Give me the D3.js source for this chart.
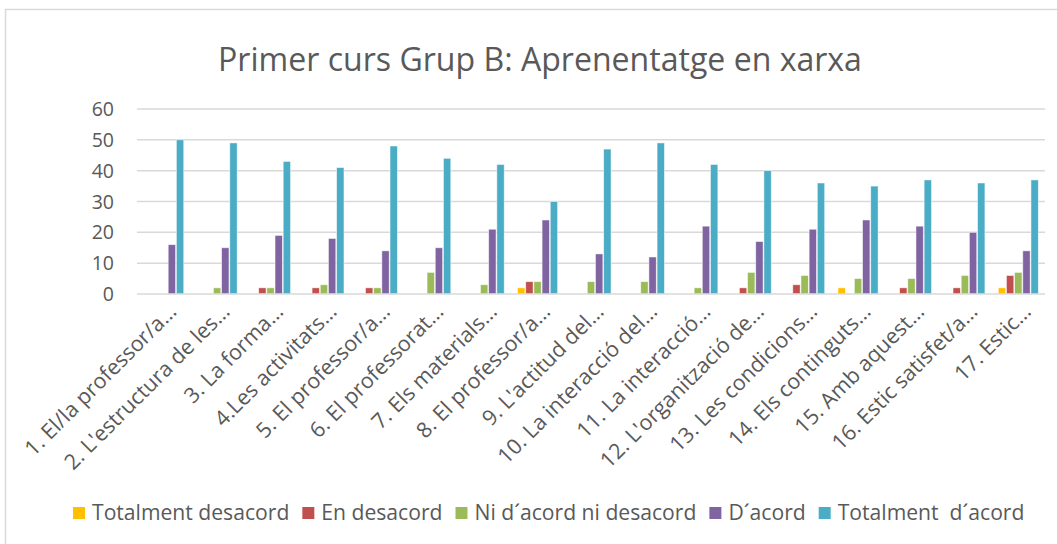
<!DOCTYPE html>
<html><head><meta charset="utf-8">
<script src="https://cdn.jsdelivr.net/npm/d3@7"></script>
<style>
html,body{margin:0;padding:0;background:#fff;}
svg{display:block;font-family:"Open Sans",sans-serif;}
</style></head>
<body>
<svg id="chart" width="1057" height="544"></svg>
<script>
const title = "Primer curs Grup B: Aprenentatge en xarxa";
const categories = ["1. El/la professor/a…","2. L'estructura de les…","3. La forma…","4.Les activitats…","5. El professor/a…","6. El professorat…","7. Els materials…","8. El professor/a…","9. L'actitud del…","10. La interacció del…","11. La interacció…","12. L'organització de…","13. Les condicions…","14. Els continguts…","15. Amb aquest…","16. Estic satisfet/a…","17. Estic…"];
const seriesNames = ["Totalment desacord","En desacord","Ni d´acord ni desacord","D´acord","Totalment  d´acord"];
const seriesColors = ["#FFC000","#C0504D","#9BBB59","#8064A2","#4BACC6"];
const totalmentDesacord = [0,0,0,0,0,0,0,2,0,0,0,0,0,2,0,0,2];
const enDesacord        = [0,0,2,2,2,0,0,4,0,0,0,2,3,0,2,2,6];
const niAcord           = [0,2,2,3,2,7,3,4,4,4,2,7,6,5,5,6,7];
const dAcord            = [16,15,19,18,14,15,21,24,13,12,22,17,21,24,22,20,14];
const totalmentAcord    = [50,49,43,41,48,44,42,30,47,49,42,40,36,35,37,36,37];
const yTicks = [0,10,20,30,40,50,60];

const series = [totalmentDesacord,enDesacord,niAcord,dAcord,totalmentAcord];
const svg = d3.select("#chart");
const textColor = "#595959";

// outer border
svg.append("rect").attr("x",5.5).attr("y",9.5).attr("width",1057).attr("height",544)
  .attr("fill","none").attr("stroke","#D9D9D9").attr("stroke-width",1.5);

// title
const t = svg.append("text").attr("x",540).attr("y",71).attr("text-anchor","middle")
  .attr("fill",textColor).style("font-size","27px").text(title);
const tw = t.node().getComputedTextLength();
t.style("font-size",(27*644/tw).toFixed(2)+"px");

const plotLeft = 137, plotRight = 1045, plotTop = 109, plotBottom = 294;
const y = d3.scaleLinear().domain([0,60]).range([plotBottom,plotTop]);
const x0 = d3.scaleBand().domain(categories).range([plotLeft,plotRight]).paddingInner(0.25).paddingOuter(0.125);
const x1 = d3.scaleBand().domain(seriesNames).range([0,x0.bandwidth()]).paddingInner(0.1);

// gridlines
svg.append("g").selectAll("line").data(yTicks.filter(d=>d>0)).join("line")
  .attr("x1",plotLeft).attr("x2",plotRight).attr("y1",d=>y(d)).attr("y2",d=>y(d))
  .attr("stroke","#D9D9D9").attr("stroke-width",1.5);

// y axis labels
const yAxis = d3.axisLeft(y).tickValues(yTicks).tickSize(0).tickPadding(0);
const gy = svg.append("g").attr("transform",`translate(${114},0)`).call(yAxis);
gy.select(".domain").remove();
gy.selectAll("text").attr("fill",textColor).style("font-size","19.5px").style("font-family","'Open Sans',sans-serif").attr("dy","0.34em");

// bars
const groups = svg.append("g").selectAll("g").data(categories).join("g")
  .attr("transform",d=>`translate(${x0(d)},0)`);
groups.selectAll("rect").data((d,i)=>seriesNames.map((s,j)=>({s,j,v:series[j][i]})).filter(o=>o.v>0)).join("rect")
  .attr("x",o=>x1(o.s)).attr("width",x1.bandwidth())
  .attr("y",o=>y(o.v)).attr("height",o=>y(0)-y(o.v))
  .attr("fill",o=>seriesColors[o.j]).attr("stroke","#fff").attr("stroke-opacity",0.6).attr("stroke-width",0.8);

// baseline axis
const xAxis = d3.axisBottom(x0).tickSize(0).tickPadding(0);
const gx = svg.append("g").attr("transform",`translate(0,${plotBottom})`).call(xAxis);
gx.select(".domain").attr("stroke","#D9D9D9").attr("stroke-width",1.5).attr("d",`M${plotLeft},0H${plotRight}`);
const labels = gx.selectAll(".tick text")
  .attr("fill",textColor).style("font-size","18px").style("font-family","'Open Sans',sans-serif")
  .attr("text-anchor","end").attr("dy","0").attr("y",0).attr("x",0);
const l1 = labels.nodes()[0].getComputedTextLength();
const labelSize = 18*204/l1;
labels.style("font-size",labelSize.toFixed(2)+"px").attr("transform","translate(14,19) rotate(-45)");

// legend
const legend = svg.append("g");
const sq = 12, txOff = 19, gap = 13;
function buildLegend(fs){
  legend.selectAll("*").remove();
  let lx = 0;
  seriesNames.forEach((name,i)=>{
    const g = legend.append("g").attr("transform",`translate(${lx},0)`);
    g.append("rect").attr("x",0).attr("y",-13).attr("width",sq).attr("height",sq).attr("fill",seriesColors[i]);
    const tx = g.append("text").attr("x",txOff).attr("y",0).attr("fill",textColor).style("font-size",fs+"px")
      .attr("xml:space","preserve").style("white-space","pre").text(name);
    lx += txOff + tx.node().getComputedTextLength() + gap;
  });
  return lx - gap;
}
const fixedW = 5*txOff + 4*gap;
let w = buildLegend(18);
const fsL = 18*(952-fixedW)/(w-fixedW);
w = buildLegend(fsL.toFixed(2));
legend.attr("transform",`translate(${73},520)`);
</script>
</body></html>
